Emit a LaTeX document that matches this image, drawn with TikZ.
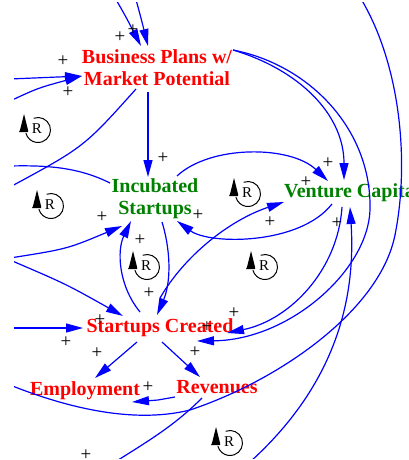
\documentclass[tikz,border=0pt]{standalone}
\usepackage{fontspec}
\setmainfont{Liberation Serif}
\usetikzlibrary{arrows.meta}
\definecolor{vred}{RGB}{255,0,0}
\definecolor{vgreen}{RGB}{0,128,0}
\definecolor{vblue}{RGB}{0,0,255}
\tikzset{
  lbl/.style={inner sep=0pt, font=\fontsize{20}{22}\selectfont\bfseries},
  redlbl/.style={lbl, text=vred},
  greenlbl/.style={lbl, text=vgreen},
  plus/.style={inner sep=0pt, font=\fontsize{19}{19}\selectfont},
  link/.style={draw=vblue, line width=1.2pt},
  arr/.style={link, -{Triangle[length=17pt,width=9pt]}},
  loopr/.pic={
    \draw[line width=1pt] (-110:12.5) arc[start angle=-110, end angle=165, radius=12.5];
    \fill (-14,-16) -- (-12,-8) -- (-10,0) -- (-10,2) -- (-19,2) -- (-18,0) -- (-16,-8) -- cycle;
    \node[inner sep=0pt, font=\fontsize{15}{15}\selectfont] (-r) at (-1,-1) {R};
  }
}
\begin{document}
\begin{tikzpicture}[x=1pt,y=-1pt]
\useasboundingbox (0,0) rectangle (409,460);
% variable labels
\node[redlbl, align=center] (bp) at (157,68) {Business Plans w/\\Market Potential};
\node[greenlbl, align=center] (inc) at (155,199) {Incubated\\Startups};
\node[redlbl, anchor=base] (sc) at (160,332) {Startups Created};
\node[redlbl, anchor=base] (emp) at (85,395) {Employment};
\node[redlbl, anchor=base] (rev) at (217,393) {Revenues};
\begin{scope}
\clip (14,3) rectangle (409,458);
\node[greenlbl, anchor=base west] (vc) at (284,197) {Venture Capital};
% attach points
\coordinate (top1) at (114,-4);
\coordinate (top2) at (135,-4);
\coordinate (bp-n1) at (141,46);
\coordinate (bp-n2) at (148,46);
\coordinate (lft1) at (10,79);
\coordinate (lft2) at (10,101);
\coordinate (bp-w) at (82,76);
\coordinate (bp-sw) at (136,89);
\coordinate (lftout1) at (10,187);
\coordinate (inc-nw) at (110,183);
\coordinate (lftout2) at (10,166);
\coordinate (lft3) at (10,258);
\coordinate (inc-w) at (122,226);
\coordinate (lft4) at (10,260);
\coordinate (sc-nw) at (123,316);
\coordinate (lft5) at (10,328);
\coordinate (sc-w) at (83,328);
\coordinate (bp-s) at (148,92);
\coordinate (inc-n) at (148,177);
\coordinate (bp-e) at (233,50);
\coordinate (vc-n) at (344,180);
\coordinate (sc-e2) at (197,341);
\coordinate (outtop) at (358,-6);
\coordinate (outleft) at (10,385);
\coordinate (bot1) at (250,462);
\coordinate (vc-s2) at (350,207);
\coordinate (vc-s1) at (342,207);
\coordinate (sc-e1) at (227,333);
\coordinate (vc-w2) at (332,204);
\coordinate (inc-e2) at (177,221);
\coordinate (inc-ne) at (177,176);
\coordinate (vc-w1) at (328,181);
\coordinate (sc-n2) at (160,298);
\coordinate (vc-sw) at (284,202);
\coordinate (sc-n1) at (140,312);
\coordinate (inc-s1) at (131,221);
\coordinate (inc-s2) at (162,222);
\coordinate (sc-n3) at (157,315);
\coordinate (sc-sw) at (137,342);
\coordinate (emp-ne) at (95,378);
\coordinate (sc-se) at (162,342);
\coordinate (rev-n) at (200,377);
\coordinate (rev-w) at (175,397);
\coordinate (emp-e) at (132,402);
\coordinate (rev-sw) at (202,398);
\coordinate (bot2) at (115,462);
% connectors
\draw[arr] (top1) .. controls (126,17) .. (bp-n1);
\draw[arr] (top2) .. controls (141,18) .. (bp-n2);
\draw[arr] (lft1) -- (bp-w);
\draw[arr] (lft2) .. controls (38,88) .. (bp-w);
\draw[link] (bp-sw) .. controls (84,147) .. (lftout1);
\draw[link] (inc-nw) .. controls (80,168) and (50,165) .. (lftout2);
\draw[arr] (lft3) .. controls (67,249) .. (inc-w);
\draw[arr] (lft4) .. controls (66,284) .. (sc-nw);
\draw[arr] (lft5) -- (sc-w);
\draw[arr] (bp-s) -- (inc-n);
\draw[arr] (bp-e) .. controls (300,70) and (344,115) .. (vc-n);
\draw[arr] (bp-e) .. controls (310,65) and (372,130) .. (370,210) .. controls (368,270) and (290,340) .. (sc-e2);
\draw[link] (outtop) .. controls (400,60) and (410,160) .. (395,235) .. controls (380,310) and (280,380) .. (190,410) .. controls (130,425) and (60,405) .. (outleft);
\draw[arr] (bot1) .. controls (335,385) and (356,300) .. (vc-s2);
\draw[arr] (vc-s1) .. controls (338,270) and (290,320) .. (sc-e1);
\draw[arr] (vc-w2) .. controls (300,245) and (210,245) .. (inc-e2);
\draw[arr] (inc-ne) .. controls (210,145) and (290,145) .. (vc-w1);
\draw[arr] (sc-n2) .. controls (185,255) and (230,220) .. (vc-sw);
\draw[arr] (sc-n1) .. controls (118,285) and (117,250) .. (inc-s1);
\draw[arr] (inc-s2) .. controls (172,255) and (170,285) .. (sc-n3);
\draw[arr] (sc-sw) -- (emp-ne);
\draw[arr] (sc-se) -- (rev-n);
\draw[arr] (rev-w) -- (158,400) -- (emp-e);
\draw[link] (rev-sw) .. controls (175,425) and (150,440) .. (bot2);
\end{scope}
% polarity signs
\foreach \x/\y [count=\i] in {120/37, 133/30, 63/61, 68/92, 163/158, 328/163, 306/182, 102/217, 198/215, 270/222, 337/223, 140/240, 149/293, 100/320, 234/313, 207/327, 66/342, 97/353, 195/352, 148/387, 86/455}
  \node[plus] (p\i) at (\x,\y) {+};
% loop markers
\pic (l1) at (38,130) {loopr};
\pic (l2) at (51,206) {loopr};
\pic (l3) at (147,267) {loopr};
\pic (l4) at (248,194) {loopr};
\pic (l5) at (265,267) {loopr};
\pic (l6) at (230,443) {loopr};
\end{tikzpicture}
\end{document}
